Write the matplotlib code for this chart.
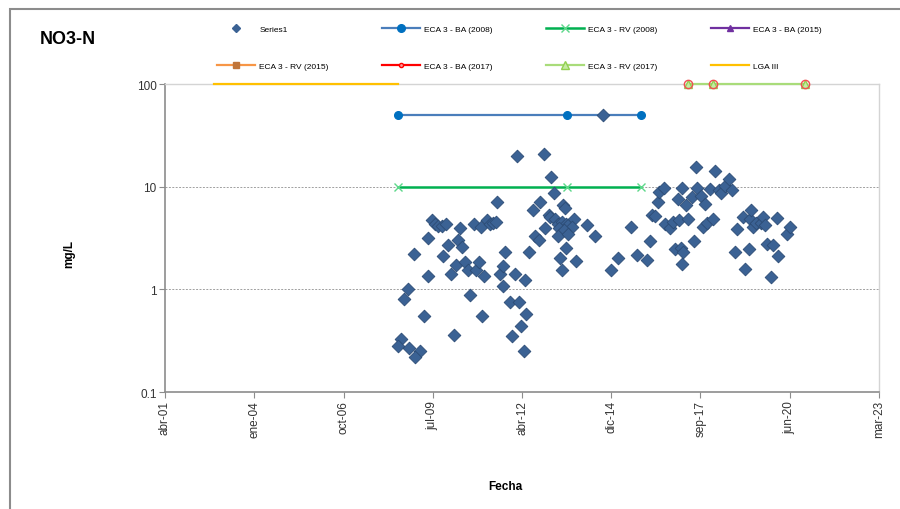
import matplotlib
matplotlib.use("Agg")
import matplotlib.pyplot as plt
from matplotlib.ticker import FixedLocator, FixedFormatter, NullLocator
from matplotlib.patches import Rectangle
from matplotlib.lines import Line2D
import pandas as pd

plt.rcParams['font.family'] = ['Liberation Sans', 'DejaVu Sans']

# ---- data (dates as Excel serial day numbers) ----
series1_fecha = [
    39641, 39607, 39730, 39853, 39797, 39719, 39674, 39786, 39898, 39943,
    39943, 39987, 40021, 40055, 40099, 40144, 40111, 40166, 40200, 40234,
    40256, 40278, 40301, 40323, 40357, 40390, 40413, 40457, 40480, 40513,
    40536, 40547, 40569, 40603, 40636, 40670, 40704, 40715, 40748, 40782,
    40782, 40815, 40860, 40916, 40939, 40961, 40994, 41039, 41050, 40883,
    41028, 41084, 41118, 41151, 41185, 41207, 41252, 41263, 41330, 41353,
    41297, 41319, 41375, 41408, 41453, 41498, 41520, 41588, 41565, 41420,
    41476, 41408, 41520, 41464, 41487, 41498, 41431, 41610, 41453,
    41733, 41822, 41912, 42002, 42080, 42225, 42292, 42404, 42438, 42460,
    42494, 42527, 42539, 42594, 42606, 42662, 42695, 42718, 42751, 42762,
    42785, 42796, 42807, 42796, 42841, 42863,
    42908, 42930, 42952, 42963, 43008, 43031, 43053, 43075, 43109, 43143,
    43165, 43210, 43232, 43277, 43322, 43355, 43389, 43411, 43478, 43501,
    43545, 43556, 43568, 43590, 43624, 43680, 43702, 43725, 43747, 43792,
    43814, 43859, 43870, 43971, 44004,
]
series1_no3n = [
    0.33, 0.28, 0.27, 0.25, 0.22, 1.00, 0.80, 2.19, 0.55, 1.34,
    3.14, 4.70, 4.30, 4.11, 4.11, 4.30, 2.10, 2.68, 1.40, 0.36,
    1.71, 3.00, 3.93, 2.56, 1.83, 1.53, 0.89, 4.30, 1.53, 1.83,
    4.01, 0.55, 1.34, 4.70, 4.30, 4.39, 4.49, 7.03, 1.40, 1.67,
    1.07, 2.29, 0.75, 1.40, 19.7, 0.76, 0.44, 1.22, 0.57, 0.35,
    0.25, 2.29, 5.88, 3.28, 3.00, 7.03, 20.6, 3.93, 12.3, 8.61,
    5.25, 5.02, 4.80, 4.30, 4.49, 4.30, 4.20, 4.80, 4.01, 3.93,
    3.75, 3.28, 3.43, 6.58, 6.15, 2.51, 2.00, 1.87, 1.53,
    4.20, 3.28, 50.0, 1.53, 2.00, 4.01, 2.14, 1.92, 2.93, 5.25,
    5.14, 7.03, 8.80, 9.62, 4.30, 3.93, 4.49, 2.45, 7.52, 4.70,
    2.51, 9.62, 2.29, 1.75, 6.58, 4.80,
    7.87, 2.93, 15.4, 9.62, 8.04, 4.01, 6.72, 4.39, 9.41, 4.80,
    14.1, 9.20, 8.61, 10.07, 11.8, 9.20, 2.29, 3.84, 5.02, 1.57,
    2.45, 4.80, 5.88, 4.01, 4.39, 4.39, 5.02, 4.20, 2.74, 1.31,
    2.68, 4.91, 2.10, 3.43, 4.01,
]

eca_2008_fecha = [39607, 41509, 42337]
eca_ba_2008 = [50, 50, 50]
eca_rv_2008 = [10, 10, 10]
eca_2015_fecha = []
eca_ba_2015 = []
eca_rv_2015 = []
eca_2017_fecha = [42863, 43143, 44172]
eca_ba_2017 = [100, 100, 100]
eca_rv_2017 = [100, 100, 100]
lga_fecha = [37548, 39607]
lga_iii = [100, 100]

x_min_serial, x_max_serial, x_step = 37000, 45000, 1000
y_ticks = [0.1, 1, 10, 100]
y_tick_labels = ["0.1", "1", "10", "100"]
meses = ["ene", "feb", "mar", "abr", "may", "jun", "jul", "ago", "sep", "oct", "nov", "dic"]


def to_dt(serials):
    return pd.to_datetime(pd.Series(serials, dtype=float), unit='D', origin='1899-12-30')


fig = plt.figure(figsize=(9, 5.1), dpi=100)
ax = fig.add_axes([165 / 900, 1 - 393 / 510, (879 - 165) / 900, (393 - 85) / 510])

ax.plot(to_dt(lga_fecha), lga_iii, color='#FFC000', lw=1.6, label='LGA III', zorder=4,
        clip_on=False)
ax.plot(to_dt(eca_2008_fecha), eca_ba_2008, color='#4A7EBB', lw=1.6, marker='o', ms=5.5,
        mfc='#0070C0', mec='#0070C0', label='ECA 3 - BA (2008)', zorder=3)
ax.plot(to_dt(eca_2008_fecha), eca_rv_2008, color='#00B050', lw=1.8, marker='x', ms=6,
        mec='#5DD88A', mew=1.0, label='ECA 3 - RV (2008)', zorder=3)
ax.plot(to_dt(eca_2015_fecha), eca_ba_2015, color='#7030A0', lw=1.6, marker='^', ms=5,
        mfc='#7030A0', mec='#7030A0', label='ECA 3 - BA (2015)')
ax.plot(to_dt(eca_2015_fecha), eca_rv_2015, color='#F79646', lw=1.6, marker='s', ms=5,
        mfc='#C0753A', mec='#C0753A', label='ECA 3 - RV (2015)')
ax.plot(to_dt(eca_2017_fecha), eca_rv_2017, color='#A9DC7A', lw=1.6, marker='^', ms=5.5,
        mfc='#C6EBA3', mec='#92D050', label='ECA 3 - RV (2017)', zorder=4, clip_on=False)
ax.plot(to_dt(eca_2017_fecha), eca_ba_2017, color='#FF0000', lw=1.6, marker='o', ms=6,
        mfc='none', mec='#F05050', mew=1.0, linestyle='none', zorder=5, clip_on=False)
ax.scatter(to_dt(series1_fecha), series1_no3n, marker='D', s=42, color='#3B6294',
           edgecolors='#2C4C75', linewidths=0.6, label='Series1', zorder=6)

ax.set_yscale('log')
ax.set_ylim(0.1, 100)
ax.yaxis.set_major_locator(FixedLocator(y_ticks))
ax.yaxis.set_major_formatter(FixedFormatter(y_tick_labels))
ax.yaxis.set_minor_locator(NullLocator())

xt_serial = list(range(x_min_serial, x_max_serial + 1, x_step))
xt = to_dt(xt_serial)
ax.set_xlim(xt.iloc[0], xt.iloc[-1])
ax.set_xticks(list(xt))
ax.set_xticklabels([f"{meses[d.month - 1]}-{d.year % 100:02d}" for d in xt], rotation=90)

ax.grid(axis='y', which='major', color='#A0A0A0', linestyle=(0, (2, 1.5)), lw=0.7)
ax.grid(axis='x', visible=False)
for s in ['left', 'bottom']:
    ax.spines[s].set_color('#8C8C8C')
    ax.spines[s].set_linewidth(1.2)
for s in ['top', 'right']:
    ax.spines[s].set_color('#D4D4D4')
    ax.spines[s].set_linewidth(1.0)
ax.tick_params(axis='both', direction='out', length=4, color='#8C8C8C', labelsize=8.5,
               labelcolor='#333333', pad=2)

fig.text(40 / 900, 1 - 40 / 510, 'NO3-N', fontsize=13, fontweight='bold', va='center', ha='left')
fig.text(69 / 900, 1 - 254 / 510, 'mg/L', fontsize=8.5, fontweight='bold', rotation=90,
         va='center', ha='center')
fig.text(505 / 900, 1 - 487 / 510, 'Fecha', fontsize=8.5, fontweight='bold', va='center', ha='center')

# legend
h, l = ax.get_legend_handles_labels()
order = ['Series1', 'ECA 3 - BA (2008)', 'ECA 3 - RV (2008)', 'ECA 3 - BA (2015)',
         'ECA 3 - RV (2015)', 'ECA 3 - BA (2017)', 'ECA 3 - RV (2017)', 'LGA III']
hm = dict(zip(l, h))
hm['ECA 3 - BA (2017)'] = Line2D([], [], color='#FF0000', lw=1.6, marker='o', ms=3,
                                  mfc='#FF9999', mec='#FF0000')
hm['Series1'] = Line2D([], [], linestyle='none', marker='D', ms=4, color='#3B6294')
handles = [hm[k] for k in order]
ncol, nrow = 4, 2
rm = [handles[r * ncol + c] for c in range(ncol) for r in range(nrow)]
rl = [order[r * ncol + c] for c in range(ncol) for r in range(nrow)]
leg = fig.legend(rm, rl, ncol=ncol, loc='upper left', bbox_to_anchor=(217 / 900, 1 - 26.5 / 510),
                 frameon=False, fontsize=6.0, handlelength=4.56, columnspacing=6.4,
                 labelspacing=3.5, handletextpad=0.5, borderpad=0, borderaxespad=0)

fig.patches.append(Rectangle((10 / 900, -0.2), 1.2, 1.2 - 10 / 510, transform=fig.transFigure,
                             fill=False, edgecolor='#8C8C8C', lw=1.5))

fig.savefig('out.png', dpi=100)
